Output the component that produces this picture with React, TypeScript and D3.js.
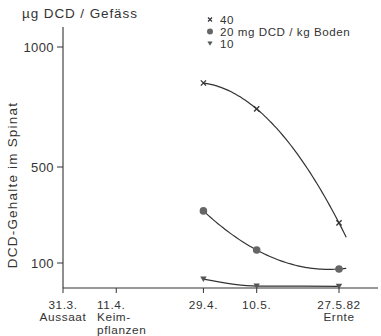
import * as d3 from "d3";

// days after sowing (31.3.82)
const tickDays = [0, 11, 29, 40, 57];
const tickLabels = [
  ["31.3.", "Aussaat"],
  ["11.4.", "Keim-", "pflanzen"],
  ["29.4."],
  ["10.5."],
  ["27.5.82", "Ernte"],
];
const sampleDays = [29, 40, 57];
const dcd40 = [850, 742, 267];
const dcd20 = [317, 154, 75];
const dcd10 = [33, 4, 3];
const yTicks = [100, 500, 1000];
const legendLabels = ["40", "20 mg DCD / kg  Boden", "10"];

const W = 381;
const H = 336;
const ink = "#333";
const font = "'Liberation Sans', Arial, sans-serif";

// quadratic through three points (Lagrange), used for the hand-fitted curves
const quad = (xs: number[], ys: number[]) => (x: number) =>
  ys.reduce((s, yi, i) => {
    let t = yi;
    xs.forEach((xj, j) => {
      if (j !== i) t *= (x - xj) / (xs[i] - xj);
    });
    return s + t;
  }, 0);

const App = () => {
  const x = d3.scaleLinear().domain([0, 57]).range([63, 339]);
  const y = d3.scaleLinear().domain([0, 1000]).range([287, 47]);

  const fitPath = (vals: number[], end: number) => {
    const f = quad(sampleDays, vals);
    const pts = d3.range(sampleDays[0], end + 0.01, 0.5).map((d) => [d, f(d)] as [number, number]);
    return d3.line<[number, number]>().x((d) => x(d[0])).y((d) => y(d[1])).curve(d3.curveBasis)(pts) ?? "";
  };
  const low = d3
    .line<number>()
    .x((_, i) => x(sampleDays[i]))
    .y((d) => y(d))
    .curve(d3.curveMonotoneX);

  const cross = (cx: number, cy: number, r = 2.6) =>
    `M${cx - r},${cy - r}L${cx + r},${cy + r}M${cx - r},${cy + r}L${cx + r},${cy - r}`;
  const tri = (cx: number, cy: number, r = 3.2) =>
    `M${cx - r},${cy - r * 0.8}L${cx + r},${cy - r * 0.8}L${cx},${cy + r * 0.9}Z`;

  return (
    <svg
      width={W}
      height={H}
      style={{ position: "absolute", left: 0, top: 0, background: "#fff" }}
      fontFamily={font}
      fill={ink}
    >
      <text x={22} y={18} fontSize={13.5} letterSpacing={0.9}>µg DCD / Gefäss</text>
      <text
        transform="translate(17,185) rotate(-90)"
        textAnchor="middle"
        fontSize={13.5}
        letterSpacing={1.2}
      >
        DCD-Gehalte im Spinat
      </text>

      {/* axes */}
      <line x1={x(0)} x2={x(0)} y1={27} y2={288} stroke={ink} strokeWidth={1.1} />
      <line x1={x(0)} x2={378} y1={288} y2={288} stroke={ink} strokeWidth={1.1} />
      {yTicks.map((t) => (
        <g key={t}>
          <line x1={x(0) - 6} x2={x(0)} y1={y(t)} y2={y(t)} stroke={ink} />
          <text x={x(0) - 9} y={y(t) + 4.5} textAnchor="end" fontSize={13} letterSpacing={0.4}>
            {t}
          </text>
        </g>
      ))}
      {tickDays.map((d, i) => (
        <g key={d}>
          <line x1={x(d)} x2={x(d)} y1={288} y2={293} stroke={ink} />
          {tickLabels[i].map((s, k) => (
            <text
              key={k}
              x={i === 1 ? 97 : x(d)}
              y={308.5 + k * 12.6}
              textAnchor={i === 1 ? "start" : "middle"}
              fontSize={11.8}
              letterSpacing={0.6}
            >
              {s}
            </text>
          ))}
        </g>
      ))}

      {/* curves */}
      <path d={fitPath(dcd40, 58.6)} fill="none" stroke={ink} strokeWidth={1.2} />
      <path d={fitPath(dcd20, 58.8)} fill="none" stroke={ink} strokeWidth={1.2} />
      <path d={low(dcd10) ?? ""} fill="none" stroke={ink} strokeWidth={1.2} />

      {/* markers */}
      {sampleDays.map((d, i) => (
        <g key={d}>
          <path d={cross(x(d), y(dcd40[i]))} stroke={ink} strokeWidth={1.3} fill="none" />
          <circle cx={x(d)} cy={y(dcd20[i])} r={3.8} fill="#666" />
          <path d={tri(x(d), y(dcd10[i]))} fill="#555" />
        </g>
      ))}

      {/* legend */}
      {legendLabels.map((s, i) => {
        const ly = 19.5 + i * 12;
        return (
          <g key={s}>
            {i === 0 && <path d={cross(210, ly, 2)} stroke={ink} strokeWidth={1.2} fill="none" />}
            {i === 1 && <circle cx={210} cy={ly} r={3} fill="#666" />}
            {i === 2 && <path d={tri(210, ly, 2.6)} fill="#555" />}
            <text x={220} y={ly + 4.2} fontSize={11.6} letterSpacing={0.55}>
              {s}
            </text>
          </g>
        );
      })}
    </svg>
  );
};

export default App;
